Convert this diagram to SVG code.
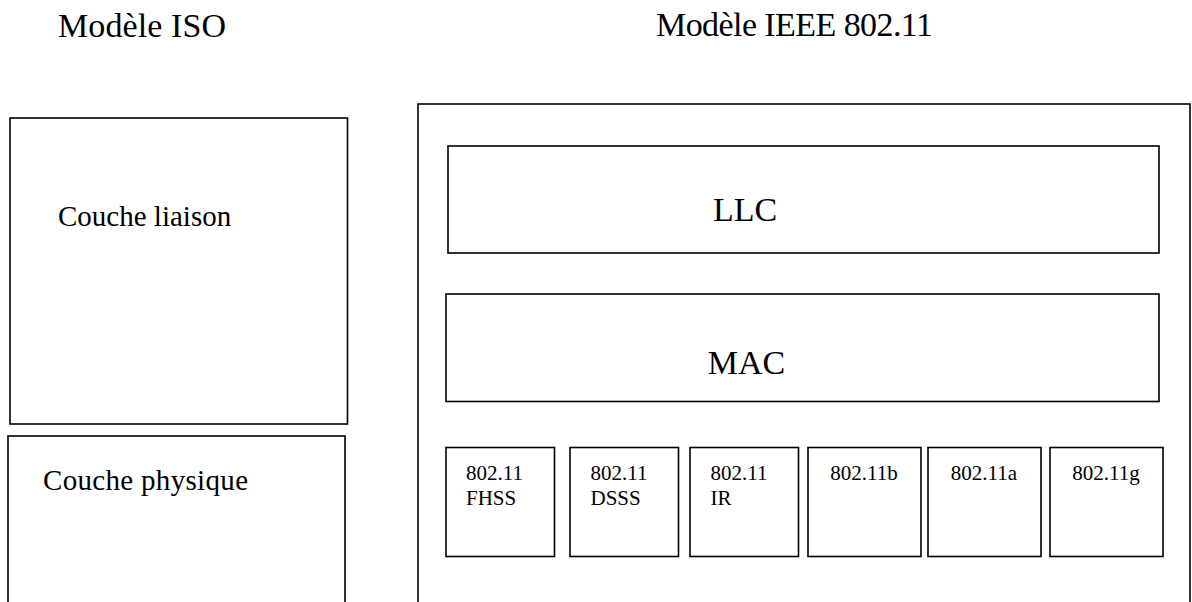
<svg xmlns="http://www.w3.org/2000/svg" width="1192" height="602" viewBox="0 0 1192 602">
<style>
.b{fill:#fff;stroke:#000;stroke-width:1.6}
text{font-family:"Palatino Linotype","Book Antiqua",Palatino,"Liberation Serif",serif;fill:#000}
.t{font-size:34px}
.c{font-size:29px}
.s{font-size:21px;font-family:"Liberation Serif","Times New Roman",serif}
.m{text-anchor:middle}
</style>
<rect width="1192" height="602" fill="#fff"/>
<text class="t" x="58" y="37" textLength="168">Modèle ISO</text>
<text class="t" x="656" y="36" textLength="277">Modèle IEEE 802.11</text>
<g id="iso-liaison">
<rect class="b" x="10" y="118" width="337.5" height="306"/>
<text class="c" x="58" y="226">Couche liaison</text>
</g>
<g id="iso-physique">
<rect class="b" x="8" y="436" width="337" height="200"/>
<text class="c" x="43" y="490" textLength="205">Couche physique</text>
</g>
<g id="ieee">
<rect class="b" x="418" y="104" width="772" height="520"/>
</g>
<g id="llc">
<rect class="b" x="448" y="146" width="711" height="107"/>
<text class="t m" x="745" y="221">LLC</text>
</g>
<g id="mac">
<rect class="b" x="446" y="294" width="713" height="107.5"/>
<text class="t m" x="746.5" y="374">MAC</text>
</g>
<g id="fhss">
<rect class="b" x="446" y="447.5" width="108.5" height="109"/>
<text class="s" x="466" y="480">802.11</text>
<text class="s" x="466" y="505">FHSS</text>
</g>
<g id="dsss">
<rect class="b" x="570" y="447.5" width="108.5" height="109"/>
<text class="s" x="590.5" y="480">802.11</text>
<text class="s" x="590.5" y="505">DSSS</text>
</g>
<g id="ir">
<rect class="b" x="690" y="447.5" width="108.5" height="109"/>
<text class="s" x="710.5" y="480">802.11</text>
<text class="s" x="710.5" y="505">IR</text>
</g>
<g id="b">
<rect class="b" x="808" y="447.5" width="113" height="109"/>
<text class="s m" x="864" y="480">802.11b</text>
</g>
<g id="a">
<rect class="b" x="928" y="447.5" width="113" height="109"/>
<text class="s m" x="984" y="480">802.11a</text>
</g>
<g id="g">
<rect class="b" x="1050" y="447.5" width="113" height="109"/>
<text class="s m" x="1106" y="480">802.11g</text>
</g>
<g id="connectors"/>
</svg>
